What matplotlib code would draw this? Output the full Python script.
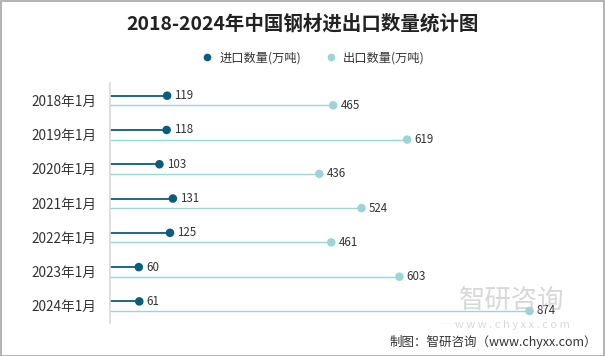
import matplotlib
matplotlib.use("Agg")
import matplotlib.pyplot as plt
from matplotlib.lines import Line2D
from matplotlib.patches import Rectangle

plt.rcParams['font.family'] = ['Noto Sans CJK SC', 'DejaVu Sans']

categories = ["2018年1月", "2019年1月", "2020年1月", "2021年1月", "2022年1月", "2023年1月", "2024年1月"]
imports = [119, 118, 103, 131, 125, 60, 61]
exports = [465, 619, 436, 524, 461, 603, 874]
series_names = ["进口数量(万吨)", "出口数量(万吨)"]

c_imp = "#0b5d7e"
c_exp = "#9dd5d6"

fig = plt.figure(figsize=(6.05, 3.56), dpi=100)
W, H = 605, 356
ax = fig.add_axes([110 / W, 1 - 323 / H, 480 / W, 240 / H])

n = len(categories)
ys = list(range(n))
off_imp = -0.13
off_exp = 0.15

for i, (a, b) in enumerate(zip(imports, exports)):
    y = ys[i]
    ax.plot([0, a], [y + off_imp] * 2, color=c_imp, lw=1.3, zorder=2)
    ax.plot([0, b], [y + off_exp] * 2, color=c_exp, lw=1.0, zorder=2)
    ax.scatter([a], [y + off_imp], s=38, color=c_imp, zorder=3, edgecolors='none')
    ax.scatter([b], [y + off_exp], s=38, color=c_exp, zorder=3, edgecolors='none')
    ax.text(a + 15, y + off_imp, str(a), va='center', ha='left', fontsize=8.3, color='#333333', zorder=4)
    ax.text(b + 15, y + off_exp, str(b), va='center', ha='left', fontsize=8.3, color='#333333', zorder=4)

ax.set_xlim(0, 1000)
ax.set_ylim(n - 0.5, -0.5)
ax.set_yticks(ys)
ax.set_yticklabels(categories, fontsize=9.8, color='#333333')
ax.tick_params(axis='y', length=0, pad=10)
ax.set_xticks([])
for s in ['top', 'right', 'bottom']:
    ax.spines[s].set_visible(False)
ax.spines['left'].set_color('#d9d9d9')
ax.spines['left'].set_linewidth(1.2)

fig.text(0.5, 1 - 24 / H, "2018-2024年中国钢材进出口数量统计图", ha='center', va='center',
         fontsize=14, fontweight='semibold', color='#222222')

handles = [Line2D([], [], marker='o', ls='none', color=c_imp, markersize=4.5),
           Line2D([], [], marker='o', ls='none', color=c_exp, markersize=4.5)]
fig.legend(handles, series_names, loc='center', bbox_to_anchor=(310 / W, 1 - 58 / H), ncol=2,
           frameon=False, fontsize=8.8, handletextpad=0.0, columnspacing=1.4, labelcolor='#333333')

# watermark
fig.text(512 / W, 1 - 300 / H, "智研咨询", ha='center', va='center', fontsize=19,
         color='#c8c8c8', alpha=0.7, zorder=0)
fig.text(512 / W, 1 - 325 / H, "w w w . c h y x x . c o m", ha='center', va='center', fontsize=8,
         color='#d0d0d0', alpha=0.8, zorder=0)
fig.add_artist(Rectangle((437 / W, 1 - 322 / H), 20 / W, 28 / H, transform=fig.transFigure,
                         color='#c9dcec', alpha=0.7, zorder=0))

fig.text(597 / W, 1 - 342 / H, "制图：智研咨询（www.chyxx.com）", ha='right', va='center',
         fontsize=9, color='#333333')

fig.add_artist(Rectangle((0.5 / W, 0.5 / H), 1 - 1.5 / W, 1 - 1.5 / H, transform=fig.transFigure,
                         fill=False, edgecolor='#a6a6a6', lw=1.2))

fig.savefig("out.png", dpi=100)
